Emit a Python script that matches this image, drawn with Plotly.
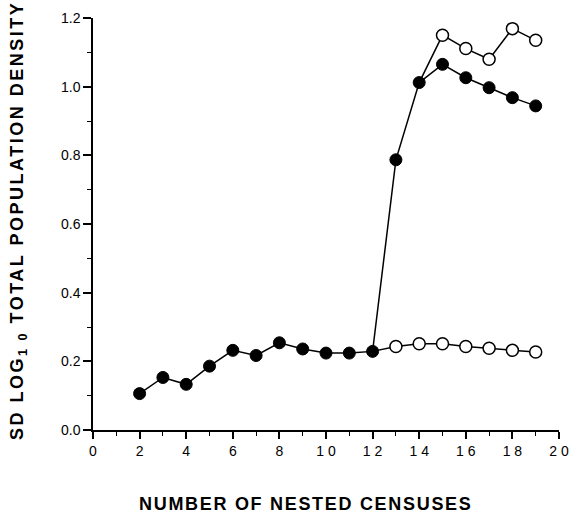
import plotly.graph_objects as go

# Data
x_early = [2, 3, 4, 5, 6, 7, 8, 9, 10, 11, 12, 13, 14]
y_early = [0.106, 0.153, 0.133, 0.186, 0.232, 0.217, 0.254, 0.236, 0.224, 0.224, 0.229, 0.787, 1.012]
x_late = [15, 16, 17, 18, 19]
y_filled_late = [1.065, 1.026, 0.997, 0.968, 0.944]
y_open_upper = [1.150, 1.111, 1.080, 1.169, 1.135]
x_open_lower = [13, 14, 15, 16, 17, 18, 19]
y_open_lower = [0.243, 0.251, 0.251, 0.243, 0.238, 0.232, 0.227]

x_ticks = [0, 2, 4, 6, 8, 10, 12, 14, 16, 18, 20]
x_ticktext = ["0", "2", "4", "6", "8", "1 0", "1 2", "1 4", "1 6", "1 8", "2 0"]
y_ticks = [0.0, 0.2, 0.4, 0.6, 0.8, 1.0, 1.2]
y_ticktext = ["0.0", "0.2", "0.4", "0.6", "0.8", "1.0", "1.2"]

line = dict(color="black", width=1.5)
fig = go.Figure()

# connecting lines
fig.add_trace(go.Scatter(x=x_early + x_late, y=y_early + y_open_upper, mode="lines", line=line))
fig.add_trace(go.Scatter(x=[x_early[-1]] + x_late, y=[y_early[-1]] + y_filled_late, mode="lines", line=line))
i12 = x_early.index(12)
fig.add_trace(go.Scatter(x=[12] + x_open_lower, y=[y_early[i12]] + y_open_lower, mode="lines", line=line))

# markers
fig.add_trace(go.Scatter(x=x_early + x_late, y=y_early + y_filled_late, mode="markers",
                         marker=dict(size=12, color="black", line=dict(color="black", width=1))))
fig.add_trace(go.Scatter(x=x_late, y=y_open_upper, mode="markers",
                         marker=dict(size=12, color="white", line=dict(color="black", width=1.5))))
fig.add_trace(go.Scatter(x=x_open_lower, y=y_open_lower, mode="markers",
                         marker=dict(size=12, color="white", line=dict(color="black", width=1.5))))

font = "Liberation Sans, Arial, Helvetica, sans-serif"
fig.update_layout(
    width=579, height=514,
    margin=dict(l=93, r=10, t=16, b=84),
    paper_bgcolor="white", plot_bgcolor="white",
    showlegend=False,
    font=dict(family=font, size=14, color="black"),
    xaxis=dict(range=[0, 20], tickvals=x_ticks, ticktext=x_ticktext,
               showline=True, linecolor="black", linewidth=1.5, showgrid=False, zeroline=False,
               ticks="outside", ticklen=7, tickwidth=1.5, tickcolor="black",
               minor=dict(dtick=1, tick0=0, ticks="outside", ticklen=4, tickwidth=1.2, tickcolor="black", showgrid=False),
               tickfont=dict(size=14)),
    yaxis=dict(range=[0, 1.2], tickvals=y_ticks, ticktext=y_ticktext,
               showline=True, linecolor="black", linewidth=1.5, showgrid=False, zeroline=False,
               ticks="outside", ticklen=8, tickwidth=1.5, tickcolor="black",
               minor=dict(dtick=0.1, tick0=0, ticks="outside", ticklen=4, tickwidth=1.2, tickcolor="black", showgrid=False),
               tickfont=dict(size=14)),
    annotations=[
        dict(text='<span style="letter-spacing:1.7px"><b>NUMBER OF NESTED CENSUSES</b></span>',
             xref="paper", yref="paper",
             x=0.5, xshift=-20, y=0, yshift=-62, xanchor="center", yanchor="top", showarrow=False,
             font=dict(size=18, family=font)),
        dict(text='<span style="letter-spacing:2.5px"><b>SD LOG<sub>1 0</sub> TOTAL POPULATION DENSITY</b></span>',
             xref="paper", yref="paper",
             x=0, xshift=-75, y=0.5, yshift=3, xanchor="center", yanchor="middle", textangle=-90,
             showarrow=False, font=dict(size=18, family=font)),
    ],
)

fig.write_html("out.html")
